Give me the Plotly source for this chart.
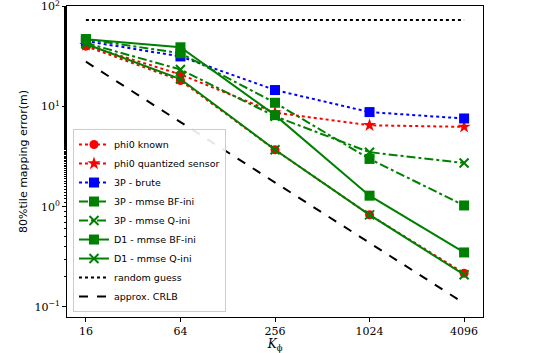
import plotly.graph_objects as go

K = [16, 64, 256, 1024, 4096]
phi0_known = [40, 18.2, 3.7, 0.83, 0.217]
phi0_quant = [41, 20.9, 8.7, 6.5, 6.27]
brute_3p = [45, 31.6, 14.6, 8.8, 7.6]
mmse_bf_3p = [47, 34, 10.9, 3.0, 1.03]
mmse_q_3p = [43, 23.4, 8.0, 3.5, 2.73]
mmse_bf_d1 = [47, 39, 8.2, 1.29, 0.35]
mmse_q_d1 = [42, 18.8, 3.7, 0.83, 0.21]
random_guess = [73, 73, 73, 73, 73]
crlb = [28, 7, 1.75, 0.4375, 0.109]

series = [
    ("phi0 known", phi0_known, "red", "dot", "circle", 9),
    ("phi0 quantized sensor", phi0_quant, "red", "dot", "star", 10),
    ("3P - brute", brute_3p, "blue", "dot", "square", 10),
    ("3P - mmse BF-ini", mmse_bf_3p, "green", "dashdot", "square", 10),
    ("3P - mmse Q-ini", mmse_q_3p, "green", "dashdot", "x-thin", 9),
    ("D1 - mmse BF-ini", mmse_bf_d1, "green", "solid", "square", 10),
    ("D1 - mmse Q-ini", mmse_q_d1, "green", "solid", "x-thin", 9),
]

fig = go.Figure()
for name, vals, col, dash, sym, sz in series:
    fig.add_trace(go.Scatter(
        x=K, y=vals, name=name, mode="lines+markers",
        line=dict(color=col, dash=dash, width=2),
        marker=dict(symbol=sym, size=sz, color=col,
                    line=dict(color=col, width=2 if sym == "x-thin" else 0)),
    ))
fig.add_trace(go.Scatter(x=K, y=random_guess, name="random guess", mode="lines",
                         line=dict(color="black", dash="dot", width=2)))
fig.add_trace(go.Scatter(x=K, y=crlb, name="approx. CRLB", mode="lines",
                         line=dict(color="black", dash="dash", width=2)))

serif = "DejaVu Serif"
fig.update_layout(
    width=538, height=353,
    margin=dict(l=67, r=55, t=6, b=36, autoexpand=False),
    paper_bgcolor="white", plot_bgcolor="white",
    showlegend=True,
    legend=dict(x=0.0144, y=0.016, xanchor="left", yanchor="bottom",
                bgcolor="rgba(255,255,255,0.9)", bordercolor="#cccccc", borderwidth=1,
                font=dict(family="DejaVu Sans", size=9.5, color="black"),
                tracegroupgap=0, itemwidth=30),
    xaxis=dict(type="log", range=[1.0837, 3.7328], automargin=False,
               tickvals=K, ticktext=[str(k) for k in K],
               tickfont=dict(family=serif, size=11, color="black"),
               ticks="outside", ticklen=4, tickcolor="black",
               showgrid=False, showline=True, linecolor="black", linewidth=1, mirror=True,
               title=dict(text="<i>K</i><sub>ϕ</sub>", font=dict(family=serif, size=12, color="black"), standoff=0),
               zeroline=False),
    yaxis=dict(type="log", range=[-1.1, 2.003], automargin=False,
               tickvals=[0.1, 1, 10, 100],
               ticktext=["10<sup>−1</sup>", "10<sup>0</sup>", "10<sup>1</sup>", "10<sup>2</sup>"],
               tickfont=dict(family=serif, size=11, color="black"),
               ticklabeloverflow="allow",
               ticks="outside", ticklen=4, tickcolor="black",
               minor=dict(ticks="outside", ticklen=2, tickcolor="black", showgrid=False),
               showgrid=False, showline=True, linecolor="black", linewidth=1, mirror=True,
               title=dict(text="80%tile mapping error(m)", font=dict(family="DejaVu Sans", size=11, color="black"), standoff=4),
               zeroline=False),
)

fig.write_html("out.html", config={"displayModeBar": False},
               post_script="document.body.style.margin='0';")
